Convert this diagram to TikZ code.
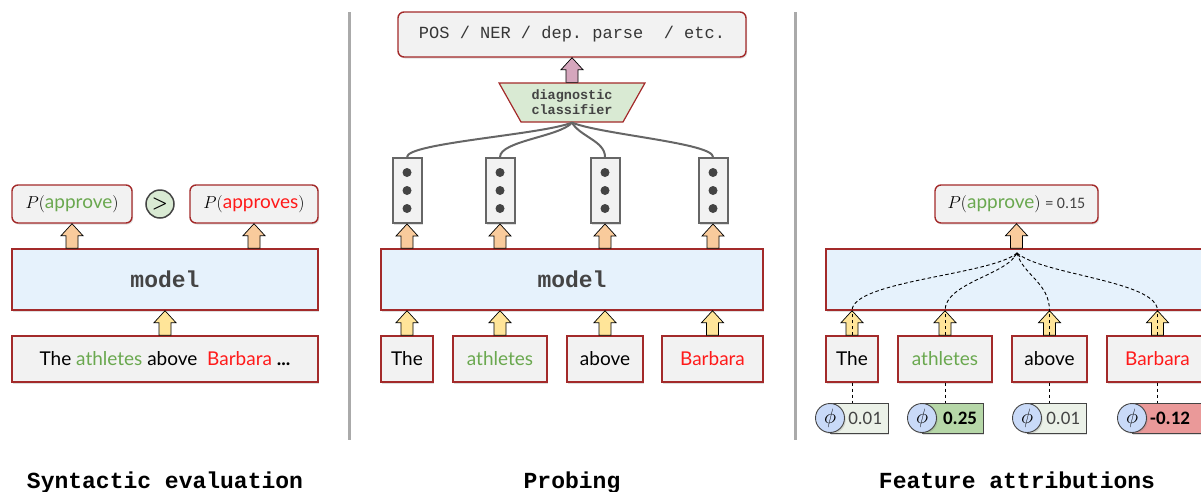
\documentclass[tikz,border=0pt]{standalone}
\usepackage{fontspec}
\setmonofont{Liberation Mono}
\newfontfamily\hand{Lato}
\newfontfamily\numf{Carlito}
\usetikzlibrary{shapes.geometric,shadows,calc}

\definecolor{frame}{HTML}{A32A2A}
\definecolor{modelfill}{HTML}{E6F2FC}
\definecolor{boxfill}{HTML}{F2F2F2}
\definecolor{orangeA}{HTML}{F9CB9C}
\definecolor{yellowA}{HTML}{FFE599}
\definecolor{pinkA}{HTML}{D5A6BD}
\definecolor{probefill}{HTML}{D9EAD3}
\definecolor{phifill}{HTML}{C9DAF8}
\definecolor{lowfill}{HTML}{EBF1E8}
\definecolor{posfill}{HTML}{B6D7A8}
\definecolor{negfill}{HTML}{EA9999}
\definecolor{wgreen}{HTML}{6AA84F}
\definecolor{wred}{HTML}{FF1A1A}
\definecolor{sepgray}{HTML}{AAAAAA}
\definecolor{vecgray}{HTML}{666666}
\definecolor{textgray}{HTML}{444444}

% vertical block arrow: fill, start point (x taken from it), end point (y taken from it)
\newcommand\blockarrow[3]{%
  \filldraw[fill=#1, draw=black, line width=0.7pt, line join=miter]
    let \p1=#2, \p2=#3 in
    (\x1-6pt,\y1) -- (\x1-6pt,\y2-12pt) -- (\x1-11pt,\y2-12pt) -- (\x1,\y2)
    -- (\x1+11pt,\y2-12pt) -- (\x1+6pt,\y2-12pt) -- (\x1+6pt,\y1) -- cycle;}

\tikzset{
  shade/.style={drop shadow={shadow xshift=1.2pt, shadow yshift=-1.5pt, opacity=0.25}},
  box/.style={draw=frame, line width=1.4pt, fill=boxfill, inner sep=0pt, shade},
  roundbox/.style={box, rounded corners=6pt, minimum height=38pt,
    font=\fontsize{19}{19}\selectfont},
  modelbox/.style={draw=frame, line width=1.4pt, fill=modelfill, inner sep=0pt, shade,
    minimum height=61pt, font=\ttfamily\bfseries\fontsize{23}{23}\selectfont, text=textgray},
  word/.style={box, minimum height=46pt, font=\hand\fontsize{19}{19}\selectfont},
  vec/.style={draw=vecgray, line width=2pt, fill=boxfill, minimum width=29pt,
    minimum height=65pt, inner sep=0pt, shade},
  title/.style={anchor=base, font=\ttfamily\bfseries\fontsize{23}{23}\selectfont},
  sepline/.style={draw=sepgray, line width=3pt},
  feed/.style={draw=vecgray, line width=2pt},
  attr/.style={dash pattern=on 3.5pt off 2.5pt, line width=0.9pt},
  phicirc/.style={circle, draw=textgray, line width=0.9pt, fill=phifill,
    minimum size=29pt, inner sep=0pt, shade, font=\fontsize{20}{20}\selectfont},
  badge/.style={draw=textgray, line width=0.6pt, minimum height=30pt, inner xsep=0pt,
    inner ysep=0pt, shade, align=right, font=\numf\fontsize{19}{19}\selectfont},
}

\begin{document}
\begin{tikzpicture}[x=1pt, y=-1pt]
\useasboundingbox (0,0) rectangle (1201,491);

% panel separators
\draw[sepline] (349,12) -- (349,440);
\draw[sepline] (795,12) -- (795,440);

% ---------------- syntactic evaluation ----------------
\node[roundbox, minimum width=120pt] (pa) at (72,204)
  {$P($\hand\textcolor{wgreen}{approve}$)$};
\node[circle, draw=textgray, line width=1.5pt, fill=probefill, minimum size=28pt,
  inner sep=0pt, font=\sffamily\bfseries\fontsize{18}{18}\selectfont] (gt) at (160,204) {>};
\node[roundbox, minimum width=128pt] (pb) at (254,204)
  {$P($\hand\textcolor{wred}{approves}$)$};
\node[modelbox, minimum width=306pt] (m1) at (165,279.5) {model};
\node[word, minimum width=306pt] (s1) at (165,359)
  {The \textcolor{wgreen}{athletes} above~ \textcolor{wred}{Barbara} \textbf{...}};

\blockarrow{yellowA}{(s1.north)}{(m1.south)}
\blockarrow{orangeA}{(m1.north -| pa)}{(pa.south)}
\blockarrow{orangeA}{(m1.north -| pb)}{(pb.south)}

% ---------------- probing ----------------
\node[roundbox, minimum width=348pt, minimum height=45pt,
  font=\ttfamily\fontsize{17}{17}\selectfont, text=textgray!80!black] (task) at (572,34.5)
  {POS / NER / dep. parse~ / etc.};
\node[trapezium, trapezium stretches=true, trapezium angle=55, shape border rotate=180,
  draw=frame, line width=1.2pt, fill=probefill, minimum width=146pt, minimum height=39pt,
  inner sep=0pt, align=center, text=textgray,
  font=\ttfamily\bfseries\fontsize{13.5}{15}\selectfont] (dc) at (572,102.5)
  {diagnostic\\classifier};
\blockarrow{pinkA}{(dc.north)}{(task.south)}

\node[modelbox, minimum width=382pt] (m2) at (572,279.5) {model};

\node[word, minimum width=52pt] (w1) at (407,359) {The};
\node[word, minimum width=94pt] (w2) at (500,359) {\textcolor{wgreen}{athletes}};
\node[word, minimum width=76pt] (w3) at (605,359) {above};
\node[word, minimum width=101pt] (w4) at (712.5,359) {\textcolor{wred}{Barbara}};

\foreach \i/\x in {1/407, 2/500, 3/605, 4/713} {
  \node[vec] (v\i) at (\x,190.5) {};
  \foreach \dy in {-18,0,18}
    \fill[textgray] ($(v\i)+(0,\dy)$) circle (4.5pt);
  \blockarrow{yellowA}{(w\i.north)}{(m2.south)}
  \blockarrow{orangeA}{(m2.north -| v\i)}{(v\i.south)}
}

\draw[feed] (dc.south) .. controls +(-30,12) and +(0,-14) .. (v1.north);
\draw[feed] (dc.south) .. controls +(-12,14) and +(0,-16) .. (v2.north);
\draw[feed] (dc.south) .. controls +(8,14) and +(0,-16) .. (v3.north);
\draw[feed] (dc.south) .. controls +(30,12) and +(0,-14) .. (v4.north);

% ---------------- feature attributions ----------------
\node[roundbox, minimum width=163pt] (pc) at (1016.5,204)
  {$P($\hand\textcolor{wgreen}{approve}$)$ {\numf\fontsize{16}{16}\selectfont\textcolor{textgray}{= 0.15}}};
\node[modelbox, minimum width=383pt] (m3) at (1017.5,279.5) {};
\blockarrow{orangeA}{(m3.north -| pc)}{(pc.south)}

\node[word, minimum width=52pt] (r1) at (852,359) {The};
\node[word, minimum width=94pt] (r2) at (945,359) {\textcolor{wgreen}{athletes}};
\node[word, minimum width=75pt] (r3) at (1049.5,359) {above};
\node[word, minimum width=101pt] (r4) at (1157.5,359) {\textcolor{wred}{Barbara}};

\coordinate (hub) at (1017,253);
\foreach \i in {1,...,4} {
  \blockarrow{yellowA}{(r\i.north)}{(m3.south)}
  \draw[attr] (r\i.north) -- (r\i.north |- m3.south);
}
\draw[attr] (hub) .. controls +(-25,22) and +(0,-30) .. (m3.south -| r1);
\draw[attr] (hub) .. controls +(-10,22) and +(0,-28) .. (m3.south -| r2);
\draw[attr] (hub) .. controls +(6,22) and +(0,-28) .. (m3.south -| r3);
\draw[attr] (hub) .. controls +(25,22) and +(0,-30) .. (m3.south -| r4);
\draw[line width=0.8pt] ($(hub)+(-3,4)$) -- (hub) -- ($(hub)+(3,4)$);

% attribution scores
\node[badge, fill=lowfill, minimum width=58pt, text width=46pt, text=textgray] (b1) at (859,418) {0.01};
\node[badge, fill=posfill, minimum width=61pt, text width=49pt, text=black] (b2) at (952.5,418) {\textbf{0.25}};
\node[badge, fill=lowfill, minimum width=59pt, text width=47pt, text=textgray] (b3) at (1056.5,418) {0.01};
\node[badge, fill=negfill, minimum width=73pt, text width=43pt, text=black] (b4) at (1168.5,418) {\textbf{-0.12}};
\node[phicirc] (f1) at (830,418) {$\phi$};
\node[phicirc] (f2) at (922,418) {$\phi$};
\node[phicirc] (f3) at (1027,418) {$\phi$};
\node[phicirc] (f4) at (1132,418) {$\phi$};
\foreach \i in {1,...,4}
  \draw[attr] (r\i.south) -- (r\i.south |- b\i.north);

% panel titles
\node[title] (t1) at (165,488) {Syntactic evaluation};
\node[title] (t2) at (572,488) {Probing};
\node[title] (t3) at (1017,488) {Feature attributions};
\end{tikzpicture}
\end{document}
